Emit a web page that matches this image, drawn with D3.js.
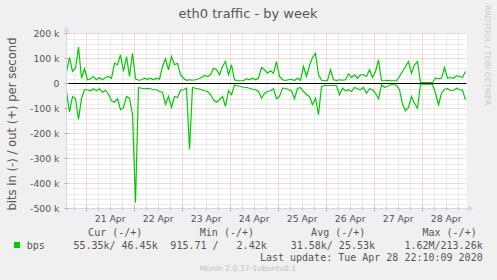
<!DOCTYPE html>
<html><head><meta charset="utf-8">
<script src="https://cdn.jsdelivr.net/npm/d3@7"></script>
<style>body{margin:0;background:#f0f0f0} svg{display:block} text{white-space:pre}</style>
</head><body><svg id="c" width="497" height="280"></svg>
<script>
// out (+) traffic, kbit/s, one value per 1.5 h
const outK = [45,105,48,61,146,21,59,15,19,28,15,24,15,24,28,21,81,75,115,48,108,28,121,19,13,15,21,17,21,15,21,17,68,99,55,108,75,81,35,21,13,15,13,15,19,24,32,28,35,61,55,35,68,88,35,75,15,11,11,11,19,15,21,15,21,64,55,41,51,41,88,28,15,12,15,17,12,21,13,68,28,72,104,121,35,13,12,12,55,15,12,15,13,15,39,24,35,21,35,35,28,55,24,48,95,12,11,13,11,11,11,28,48,68,88,41,75,88,4,4,4,4,4,21,19,21,64,21,24,21,31,28,24,48];
// in (-) traffic, kbit/s (drawn negative)
const inK = [32,115,52,61,144,60,25,25,29,21,29,21,35,27,43,69,75,61,105,96,52,59,123,476,16,19,21,19,21,25,25,32,35,83,52,96,52,56,27,25,19,264,16,19,21,25,29,32,43,65,75,65,52,92,29,45,7,9,12,15,16,19,23,25,32,59,40,32,29,21,61,52,19,19,25,29,61,19,17,32,45,52,85,59,125,13,8,8,8,8,9,45,19,29,25,32,16,21,25,16,39,21,25,39,61,5,15,12,5,5,7,25,83,109,96,52,79,99,3,3,3,3,3,39,85,39,23,21,28,27,19,25,27,65];
const yTicks = [200,100,0,-100,-200,-300,-400,-500];
const yTickLabels = ["200 k","100 k","0","-100 k","-200 k","-300 k","-400 k","-500 k"];
const dayLabels = ["21 Apr","22 Apr","23 Apr","24 Apr","25 Apr","26 Apr","27 Apr","28 Apr"];
const legendHead = ["Cur (-/+)","Min (-/+)","Avg (-/+)","Max (-/+)"];
const legendVals = ["55.35k/ 46.45k","915.71 /   2.42k","31.58k/ 25.53k","1.62M/213.26k"];
const seriesName = "bps";
const lastUpdate = "Last update: Tue Apr 28 22:10:09 2020";

const startMs = Date.UTC(2020,3,20,14,10);
const stepMs = 1.5*3600e3;
const endMs = startMs + 200*3600e3;

const svg = d3.select("#c");
const L=66.5, R=466.5, T=33.5, B=208.5;
const x = d3.scaleUtc().domain([new Date(startMs), new Date(endMs)]).range([L,R]);
const y = d3.scaleLinear().domain([-500,200]).range([B,T]);
const font = "DejaVu Sans, sans-serif";
const fc = "#555";

svg.append("rect").attr("width",497).attr("height",280).attr("fill","#f0f0f0");
svg.append("rect").attr("x",L).attr("y",T).attr("width",R-L).attr("height",B-T).attr("fill","#fff");

const g = svg.append("g");
// minor grid
const minorX = d3.utcHour.every(6).range(new Date(startMs), new Date(endMs)).filter(d=>d.getUTCHours()!==0);
g.selectAll(".mx").data(minorX).join("line")
 .attr("x1",d=>Math.round(x(d))+0.5).attr("x2",d=>Math.round(x(d))+0.5).attr("y1",T).attr("y2",B)
 .attr("stroke","#d8d8d8").attr("stroke-dasharray","1,1");
const minorY = d3.range(-500,201,20).filter(v=>v%100!==0);
g.selectAll(".my").data(minorY).join("line")
 .attr("x1",L).attr("x2",R).attr("y1",d=>Math.round(y(d))+0.5).attr("y2",d=>Math.round(y(d))+0.5)
 .attr("stroke","#d8d8d8").attr("stroke-dasharray","1,1");
// major grid
const days = d3.utcDay.range(new Date(startMs), new Date(endMs));
g.selectAll(".Mx").data(days).join("line")
 .attr("x1",d=>Math.round(x(d))+0.5).attr("x2",d=>Math.round(x(d))+0.5).attr("y1",T).attr("y2",B)
 .attr("stroke","#f0b0b0").attr("stroke-dasharray","1,1");
g.selectAll(".My").data(yTicks).join("line")
 .attr("x1",L).attr("x2",R).attr("y1",d=>y(d)).attr("y2",d=>y(d))
 .attr("stroke","#f0b0b0").attr("stroke-dasharray","1,1");

// data lines
const tOf = i => new Date(startMs + i*stepMs);
const line = d3.line().x((d,i)=>x(tOf(i)));
svg.append("path").attr("d", line.y(d=>y(d))(outK)).attr("fill","none").attr("stroke","#00cc00").attr("stroke-width",1.2);
svg.append("path").attr("d", line.y(d=>y(-d))(inK)).attr("fill","none").attr("stroke","#00cc00").attr("stroke-width",1.2);
// zero rule
svg.append("line").attr("x1",L).attr("x2",R).attr("y1",y(0)).attr("y2",y(0)).attr("stroke","#000").attr("stroke-width",1);

// axes
const ac = "#cfd6f8";
svg.append("line").attr("x1",L).attr("x2",L).attr("y1",T-4).attr("y2",B+2).attr("stroke",ac);
svg.append("line").attr("x1",L-2).attr("x2",R+4).attr("y1",B).attr("y2",B).attr("stroke",ac);
svg.append("path").attr("d",`M${L-3},${T-2}L${L},${T-7}L${L+3},${T-2}Z`).attr("fill",ac);
svg.append("path").attr("d",`M${R+2},${B-3}L${R+7},${B}L${R+2},${B+3}Z`).attr("fill",ac);
// axis ticks
svg.selectAll(".tkx").data(minorX).join("line")
 .attr("x1",d=>Math.round(x(d))+0.5).attr("x2",d=>Math.round(x(d))+0.5).attr("y1",B-2).attr("y2",B+2).attr("stroke","#c8c8c8");
svg.selectAll(".tkX").data(days).join("line")
 .attr("x1",d=>Math.round(x(d))+0.5).attr("x2",d=>Math.round(x(d))+0.5).attr("y1",B-2).attr("y2",B+3).attr("stroke","#e8a0a0");
svg.selectAll(".tky").data(yTicks).join("line")
 .attr("x1",L-2).attr("x2",L+2).attr("y1",d=>y(d)).attr("y2",d=>y(d)).attr("stroke","#e8a0a0");

// y tick labels
svg.selectAll(".yl").data(yTicks).join("text")
 .attr("x",59.5).attr("y",d=>y(d)+3.4).attr("text-anchor","end")
 .attr("font-family",font).attr("font-size",9.3).attr("fill",fc)
 .text((d,i)=>yTickLabels[i]);
// x labels at noon
const noons = days.map(d=>d3.utcHour.offset(d,12)).filter(d=>+d>startMs && +d<endMs);
svg.selectAll(".xl").data(noons).join("text")
 .attr("x",d=>x(d)).attr("y",221.8).attr("text-anchor","middle")
 .attr("font-family",font).attr("font-size",9.3).attr("fill",fc)
 .text((d,i)=>dayLabels[i]);

// title
svg.append("text").attr("x",248).attr("y",18).attr("text-anchor","middle")
 .attr("font-family",font).attr("font-size",13).attr("fill",fc).text("eth0 traffic - by week");
// y label
svg.append("text").attr("transform","translate(15.5,124) rotate(-90)").attr("text-anchor","middle")
 .attr("font-family",font).attr("font-size",11.6).attr("fill",fc).text("bits in (-) / out (+) per second");
// rrdtool credit
svg.append("text").attr("transform","translate(484.5,5) rotate(90)")
 .attr("font-family",font).attr("font-size",7.8).attr("fill","#c8c8c8").text("RRDTOOL / TOBI OETIKER");

// legend
const mono = "DejaVu Sans Mono, monospace";
const headEnds = [142.3,254,365.3,476.7];
const valEnds = [157.7,266.7,375,482.7];
svg.selectAll(".lh").data(legendHead).join("text")
 .attr("x",(d,i)=>headEnds[i]).attr("y",236).attr("text-anchor","end")
 .attr("font-family",mono).attr("font-size",10).attr("fill",fc).text(d=>d);
svg.append("rect").attr("x",14).attr("y",242).attr("width",6).attr("height",6).attr("fill","#00cc00");
svg.append("text").attr("x",26.7).attr("y",249).attr("font-family",mono).attr("font-size",10).attr("fill",fc).text(seriesName);
svg.selectAll(".lv").data(legendVals).join("text")
 .attr("x",(d,i)=>valEnds[i]).attr("y",249).attr("text-anchor","end")
 .attr("font-family",mono).attr("font-size",10).attr("fill",fc).text(d=>d);
svg.append("text").attr("x",482.7).attr("y",260.5).attr("text-anchor","end")
 .attr("font-family",mono).attr("font-size",10).attr("fill",fc).text(lastUpdate);
svg.append("text").attr("x",248).attr("y",271).attr("text-anchor","middle")
 .attr("font-family",font).attr("font-size",7.6).attr("fill","#c0c0c0").text("Munin 2.0.37-1ubuntu0.1");
</script></body></html>
